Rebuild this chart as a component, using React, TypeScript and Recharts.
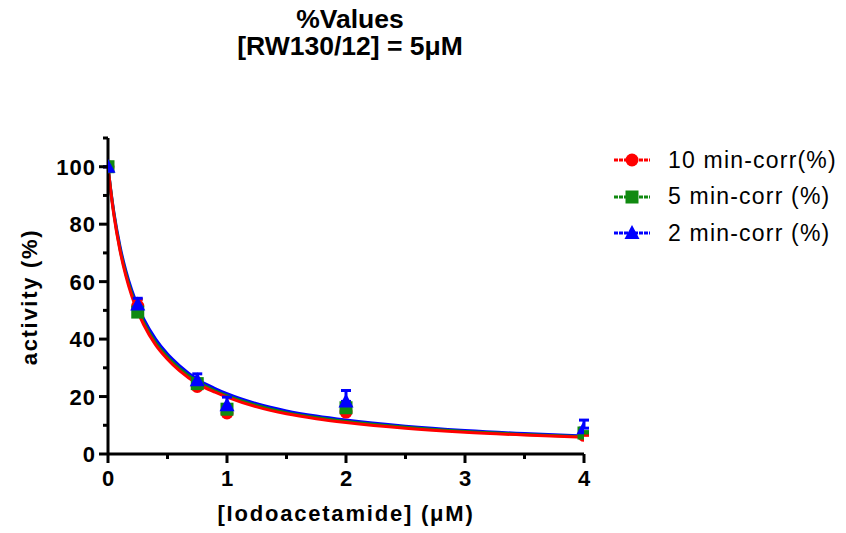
import React from 'react';
import {
  ComposedChart,
  Line,
  Scatter,
  ErrorBar,
  XAxis,
  YAxis
} from 'recharts';

// measured points
const doses = [0, 0.25, 0.75, 1, 2, 4];
const min10 = [100, 51.5, 23.5, 14.3, 14.6, 6.5];
const min10Err = [0, 2.3, 0.5, 0.5, 0.5, 0.4];
const min5 = [100, 49.4, 24.5, 15.6, 16.1, 7.3];
const min5Err = [0, 1, 0.5, 0.8, 0.8, 0.5];
const min2 = [100, 52, 25.7, 17, 18.3, 9];
const min2Err = [0, 2.2, 2.2, 2.8, 3.8, 2.8];

// fitted curves
const curveX = [0, 0.02, 0.05, 0.1, 0.15, 0.2, 0.25, 0.3, 0.4, 0.5, 0.6, 0.75, 0.9, 1, 1.25, 1.5, 1.75, 2, 2.5, 3, 3.5, 4];
const fit10 = [100, 92.5, 83, 71, 62, 55, 49.5, 45, 38, 33, 29, 24.5, 21.5, 19.8, 16.4, 14, 12.3, 11, 9, 7.6, 6.6, 5.8];
const fit5 = [100, 92.8, 83.5, 71.5, 62.8, 55.8, 50.3, 45.8, 38.8, 33.8, 29.8, 25.2, 22, 20.3, 16.9, 14.4, 12.7, 11.3, 9.3, 7.8, 6.8, 6.0];
const fit2 = [100, 93, 84, 72.5, 63.8, 57, 51.5, 47, 40, 34.8, 30.8, 26, 22.8, 21, 17.5, 15, 13.2, 11.8, 9.7, 8.2, 7.1, 6.3];

const xTicks = [0, 0.5, 1, 1.5, 2, 2.5, 3, 3.5, 4];
const yTicks = [0, 10, 20, 30, 40, 50, 60, 70, 80, 90, 100, 110];
const titleLines = ['%Values', '[RW130/12] = 5μM'];

const RED = '#ff0000';
const GREEN = '#108a10';
const BLUE = '#0000ff';
const FONT = '"Liberation Sans", Arial, sans-serif';

const points = (ys: number[], errs: number[]) =>
  doses.map((x, i) => ({ x, y: ys[i], err: [0, errs[i]] }));
const curve = (ys: number[]) => curveX.map((x, i) => ({ x, y: ys[i] }));

const Circle = (p: any) => <circle cx={p.cx} cy={p.cy} r={6.5} fill={RED} />;
const Square = (p: any) => <rect x={p.cx - 6.5} y={p.cy - 6.5} width={13} height={13} fill={GREEN} />;
const Triangle = (p: any) => (
  <polygon points={`${p.cx},${p.cy - 8} ${p.cx - 7.5},${p.cy + 6} ${p.cx + 7.5},${p.cy + 6}`} fill={BLUE} />
);

const YTick = ({ x, y, payload }: any) => {
  const major = payload.value % 20 === 0 && payload.value <= 100;
  return (
    <g>
      <line x1={x - (major ? 9 : 5)} x2={x} y1={y} y2={y} stroke="#000" strokeWidth={3} />
      {major && (
        <text x={x - 12} y={y} dy={8} textAnchor="end" fontFamily={FONT} fontWeight="bold" fontSize={22} letterSpacing={1} fill="#000">
          {payload.value}
        </text>
      )}
    </g>
  );
};

const XTick = ({ x, y, payload }: any) => {
  const major = Number.isInteger(payload.value);
  return (
    <g>
      <line x1={x} x2={x} y1={y} y2={y + (major ? 9 : 5)} stroke="#000" strokeWidth={3} />
      {major && (
        <text x={x} y={y + 32} textAnchor="middle" fontFamily={FONT} fontWeight="bold" fontSize={22} fill="#000">
          {payload.value}
        </text>
      )}
    </g>
  );
};

const legendItems = [
  { name: '10 min-corr(%)', color: RED, Marker: Circle },
  { name: '5 min-corr (%)', color: GREEN, Marker: Square },
  { name: '2 min-corr (%)', color: BLUE, Marker: Triangle }
];

const App = () => {
  return (
    <div style={{ position: 'absolute', left: 0, top: 0, width: 846, height: 533, fontFamily: FONT, background: '#fff' }}>
      {titleLines.map((t, i) => (
        <div
          key={t}
          style={{
            position: 'absolute',
            left: 0,
            width: 700,
            top: 6 + i * 27,
            height: 27,
            textAlign: 'center',
            fontWeight: 'bold',
            fontSize: 26.5,
            lineHeight: '27px',
            fontFamily: '"Liberation Sans Narrow", "Arial Narrow", ' + FONT
          }}
        >
          {t}
        </div>
      ))}
      <ComposedChart
        width={846}
        height={533}
        margin={{ top: 138, right: 262, bottom: 49, left: 48 }}
      >
        <XAxis
          dataKey="x"
          type="number"
          domain={[0, 4]}
          ticks={xTicks}
          height={30}
          tickSize={0}
          tickMargin={0}
          tickLine={false}
          tick={<XTick />}
          axisLine={{ stroke: '#000', strokeWidth: 3 }}
          interval={0}
          allowDataOverflow
        />
        <YAxis
          type="number"
          domain={[0, 110]}
          ticks={yTicks}
          width={60}
          tickSize={0}
          tickMargin={0}
          tickLine={false}
          tick={<YTick />}
          axisLine={{ stroke: '#000', strokeWidth: 3 }}
          interval={0}
          allowDataOverflow
        />
        <Line data={curve(fit2)} dataKey="y" type="monotone" stroke={BLUE} strokeWidth={3} dot={false} isAnimationActive={false} />
        <Line data={curve(fit5)} dataKey="y" type="monotone" stroke={GREEN} strokeWidth={3} dot={false} isAnimationActive={false} />
        <Line data={curve(fit10)} dataKey="y" type="monotone" stroke={RED} strokeWidth={3} dot={false} isAnimationActive={false} />
        <Scatter data={points(min10, min10Err)} dataKey="y" shape={<Circle />} isAnimationActive={false}>
          <ErrorBar dataKey="err" direction="y" width={5} stroke={RED} strokeWidth={3} />
        </Scatter>
        <Scatter data={points(min5, min5Err)} dataKey="y" shape={<Square />} isAnimationActive={false}>
          <ErrorBar dataKey="err" direction="y" width={5} stroke={GREEN} strokeWidth={3} />
        </Scatter>
        <Scatter data={points(min2, min2Err)} dataKey="y" shape={<Triangle />} isAnimationActive={false}>
          <ErrorBar dataKey="err" direction="y" width={5} stroke={BLUE} strokeWidth={3} />
        </Scatter>
      </ComposedChart>
      <div style={{ position: 'absolute', left: 0, top: 297, width: 0, height: 0 }}>
        <div style={{ position: 'absolute', left: 30, top: 0, transform: 'translate(-50%, -50%) rotate(-90deg)', whiteSpace: 'nowrap', fontWeight: 'bold', fontSize: 22, letterSpacing: 1.7 }}>
          activity (%)
        </div>
      </div>
      <div style={{ position: 'absolute', left: 108, width: 476, top: 501, textAlign: 'center', fontWeight: 'bold', fontSize: 22, letterSpacing: 1.8 }}>
        [Iodoacetamide] (μM)
      </div>
      {legendItems.map((it, i) => (
        <div key={it.name} style={{ position: 'absolute', left: 612, top: 146 + i * 36.5, height: 28, display: 'flex', alignItems: 'center' }}>
          <svg width={40} height={28}>
            <line x1={2} x2={38} y1={14} y2={14} stroke={it.color} strokeWidth={3} strokeDasharray="4 1" />
            <it.Marker cx={20} cy={14} />
          </svg>
          <span style={{ marginLeft: 16, fontSize: 23, letterSpacing: 1.2, color: '#000' }}>{it.name}</span>
        </div>
      ))}
    </div>
  );
};

export default App;
